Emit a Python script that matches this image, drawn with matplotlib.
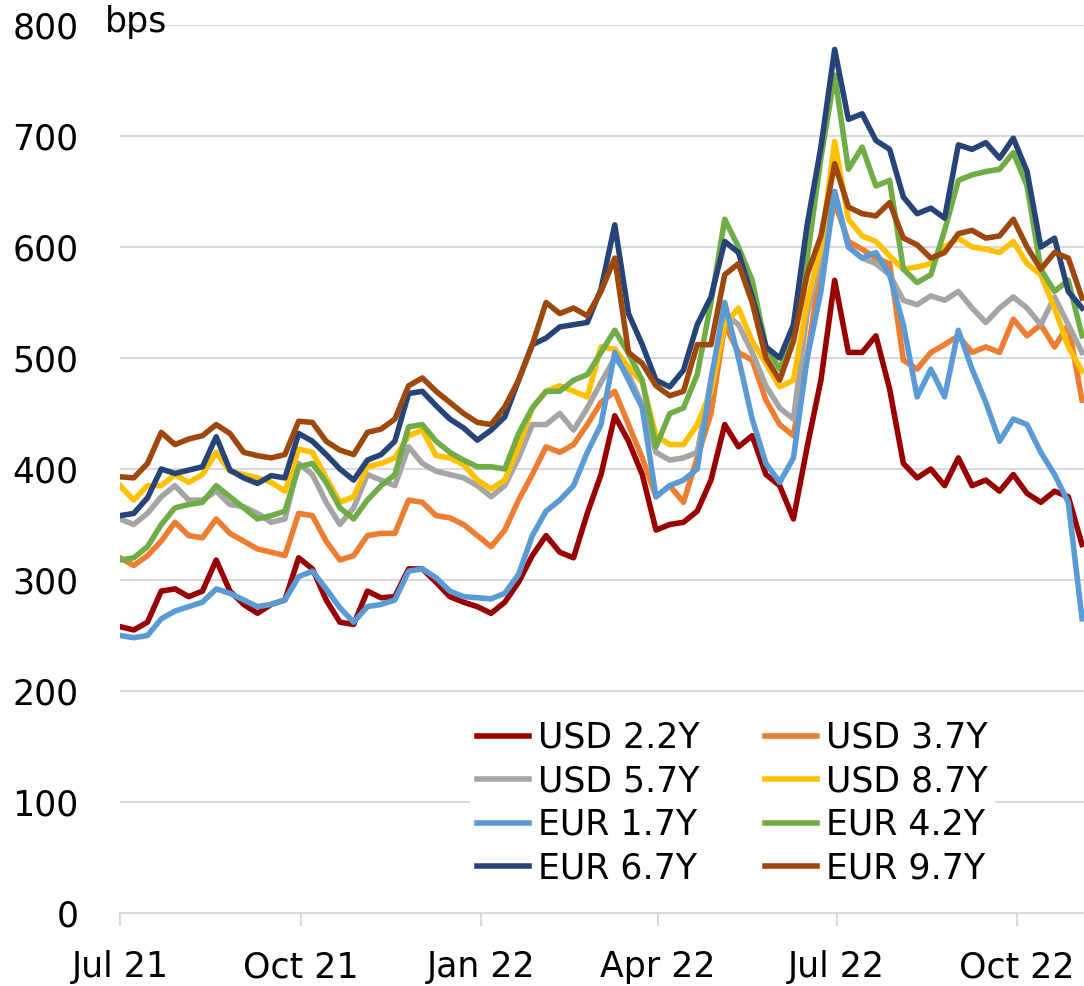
import numpy as np
import pandas as pd
import matplotlib
matplotlib.use('Agg')
import matplotlib.pyplot as plt
import matplotlib.dates as mdates

plt.rcParams['font.family'] = ['DejaVu Sans']

# weekly observations, Jul 2021 - Nov 2022 (bps)
dates = pd.date_range('2021-07-01', periods=71, freq='7D')

usd_22 = [258, 255, 262, 290, 292, 285, 290, 318, 290, 278, 270, 278, 282, 320, 310, 282, 262, 260, 290, 284,
          285, 310, 310, 298, 285, 280, 276, 270, 280, 298, 322, 340, 325, 320, 360, 395, 448, 425, 395, 345,
          350, 352, 362, 390, 440, 420, 430, 395, 385, 355, 420, 480, 570, 505, 505, 520, 472, 405, 392, 400,
          385, 410, 385, 390, 380, 395, 378, 370, 380, 375, 332]
usd_37 = [320, 313, 322, 335, 352, 340, 338, 355, 342, 335, 328, 325, 322, 360, 358, 335, 318, 322, 340, 342,
          342, 372, 370, 358, 356, 350, 340, 330, 345, 372, 395, 420, 415, 422, 440, 460, 470, 440, 410, 375,
          385, 370, 410, 450, 530, 505, 498, 462, 440, 430, 500, 585, 640, 605, 598, 590, 585, 498, 490, 505,
          512, 520, 505, 510, 505, 535, 520, 530, 510, 530, 462]
usd_57 = [355, 350, 360, 375, 385, 372, 372, 380, 368, 366, 360, 352, 355, 405, 395, 370, 350, 365, 395, 390,
          385, 420, 405, 398, 395, 392, 385, 375, 385, 410, 440, 440, 450, 435, 455, 478, 500, 485, 458, 415,
          408, 410, 415, 480, 540, 530, 505, 475, 455, 445, 540, 590, 650, 600, 590, 585, 575, 552, 548, 556,
          552, 560, 545, 532, 545, 555, 545, 530, 555, 530, 505]
usd_87 = [385, 372, 385, 385, 395, 388, 395, 415, 398, 395, 392, 388, 380, 418, 415, 392, 370, 375, 402, 405,
          410, 430, 435, 412, 410, 404, 390, 382, 390, 420, 455, 470, 475, 470, 465, 510, 508, 492, 478, 430,
          422, 422, 440, 470, 530, 545, 515, 495, 474, 480, 550, 600, 695, 625, 610, 605, 592, 580, 582, 585,
          600, 608, 600, 598, 595, 605, 585, 575, 545, 510, 488]
eur_17 = [250, 248, 250, 265, 272, 276, 280, 292, 288, 282, 276, 278, 282, 303, 308, 292, 275, 262, 276, 278,
          282, 308, 310, 302, 290, 285, 284, 283, 288, 305, 340, 362, 372, 385, 415, 440, 505, 480, 455, 375,
          385, 390, 400, 480, 550, 500, 445, 405, 388, 410, 500, 560, 650, 600, 590, 595, 575, 530, 465, 490,
          465, 525, 490, 460, 425, 445, 440, 415, 395, 370, 265]
eur_42 = [318, 320, 330, 350, 365, 368, 370, 385, 375, 365, 355, 358, 362, 402, 405, 388, 365, 355, 372, 385,
          395, 438, 440, 425, 415, 408, 402, 402, 400, 432, 455, 470, 470, 480, 485, 505, 525, 504, 480, 420,
          450, 455, 485, 550, 625, 600, 570, 510, 490, 520, 590, 680, 755, 670, 690, 655, 660, 580, 568, 575,
          615, 660, 665, 668, 670, 685, 655, 580, 560, 570, 520]
eur_67 = [358, 360, 374, 400, 396, 399, 402, 429, 399, 392, 387, 394, 392, 432, 425, 413, 400, 390, 408, 413,
          425, 468, 470, 457, 445, 437, 426, 435, 447, 480, 512, 518, 528, 530, 532, 562, 620, 540, 512, 480,
          474, 489, 530, 555, 605, 595, 555, 510, 500, 530, 620, 690, 778, 715, 720, 696, 688, 645, 630, 635,
          626, 692, 688, 694, 680, 698, 668, 600, 608, 560, 545]
eur_97 = [393, 392, 405, 433, 422, 427, 430, 440, 432, 415, 412, 410, 413, 443, 442, 425, 417, 413, 433, 436,
          445, 475, 482, 470, 460, 450, 442, 440, 456, 480, 512, 550, 540, 545, 538, 560, 590, 505, 495, 475,
          466, 470, 512, 512, 575, 585, 550, 500, 480, 515, 575, 610, 675, 636, 630, 628, 640, 608, 602, 590,
          595, 612, 615, 608, 610, 625, 600, 580, 595, 590, 554]

labels = ['USD 2.2Y', 'USD 3.7Y', 'USD 5.7Y', 'USD 8.7Y', 'EUR 1.7Y', 'EUR 4.2Y', 'EUR 6.7Y', 'EUR 9.7Y']
series = [usd_22, usd_37, usd_57, usd_87, eur_17, eur_42, eur_67, eur_97]
colors = ['#990000', '#ED7D31', '#A5A5A5', '#FFC000', '#5B9BD5', '#70AD47', '#264478', '#9E480E']

fig = plt.figure(figsize=(10.84, 9.86), dpi=100)
ax = fig.add_axes([120/1084, 73/986, 964/1084, 888/986])

lines = []
for vals, lab, col in zip(series, labels, colors):
    l, = ax.plot(dates, vals, color=col, lw=4.0, label=lab, solid_joinstyle='round')
    lines.append(l)

ax.set_ylim(0, 800)
ax.set_yticks(np.arange(0, 801, 100))
ax.set_xlim(pd.Timestamp('2021-07-01'), dates[-1] + pd.Timedelta(days=1))
ax.xaxis.set_major_locator(mdates.MonthLocator(bymonth=[1, 4, 7, 10]))
ax.xaxis.set_major_formatter(mdates.DateFormatter('%b %y'))

ax.yaxis.grid(True, color='#D9D9D9', lw=1.5)
ax.set_axisbelow(True)
for s in ['top', 'right', 'left']:
    ax.spines[s].set_visible(False)
ax.spines['bottom'].set_color('#D9D9D9')
ax.spines['bottom'].set_linewidth(1.5)

ax.tick_params(axis='y', length=0, pad=30, labelsize=25)
ax.tick_params(axis='x', length=9, width=1.5, color='#D9D9D9', pad=18, labelsize=25)

fig.text(105/1084, 1 - 22/986, 'bps', fontsize=25, va='center', ha='left')

# row-wise legend order like the original
order = [0, 2, 4, 6, 1, 3, 5, 7]
leg = ax.legend([lines[i] for i in order], [labels[i] for i in order], ncol=2,
                loc='upper left', bbox_to_anchor=(470/1084, 1 - 714/986), bbox_transform=fig.transFigure,
                fontsize=25, frameon=True, fancybox=False, framealpha=1, facecolor='white',
                edgecolor='none', handlelength=1.5, handletextpad=0.25, columnspacing=1.9,
                labelspacing=0.27, borderpad=0.2, borderaxespad=0)
for h in leg.get_lines():
    h.set_linewidth(4.0)

fig.savefig('out.png', dpi=100)
